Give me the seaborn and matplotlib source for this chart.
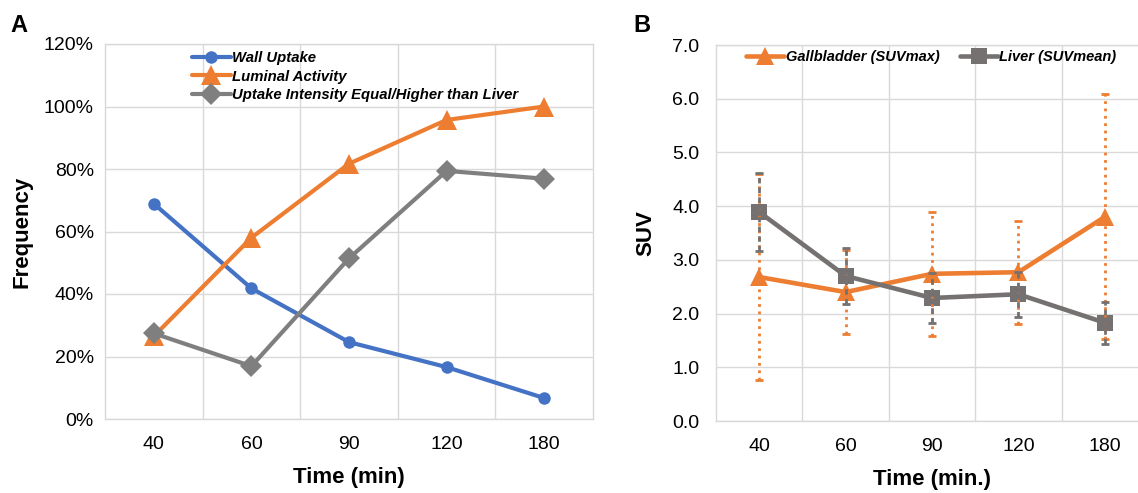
import numpy as np
import matplotlib
matplotlib.use('Agg')
import matplotlib.pyplot as plt
import seaborn as sns

sns.set_theme(style="white")
plt.rcParams['font.family'] = ['Liberation Sans', 'DejaVu Sans']
plt.rcParams.update({'text.color': 'black', 'axes.labelcolor': 'black',
                     'xtick.color': 'black', 'ytick.color': 'black'})

# Time points (categories)
times = ['40', '60', '90', '120', '180']

# Panel A: frequencies (%)
wall_uptake = [68.9, 41.8, 24.6, 16.6, 6.7]
luminal_activity = [26.5, 58.0, 81.7, 95.7, 100.0]
uptake_vs_liver = [27.4, 16.9, 51.4, 79.4, 76.9]

# Panel B: SUV with symmetric error bars
gallbladder_suvmax = [2.68, 2.40, 2.74, 2.77, 3.80]
gallbladder_err = [1.92, 0.78, 1.16, 0.96, 2.28]
liver_suvmean = [3.89, 2.70, 2.29, 2.36, 1.83]
liver_err = [0.73, 0.52, 0.46, 0.42, 0.39]

blue = '#4472C4'
orange = '#ED7D31'
grey_a = '#7F7F7F'
grey_b = '#767171'
grid_c = '#D9D9D9'

fig = plt.figure(figsize=(11.38, 4.93), dpi=100)
ax1 = fig.add_axes([105 / 1138, 74 / 493, 488 / 1138, 375 / 493])
ax2 = fig.add_axes([716 / 1138, 72 / 493, 432 / 1138, 376 / 493])

x = np.arange(len(times))


def style_axes(ax):
    ax.set_xlim(-0.5, len(times) - 0.5)
    ax.grid(True, color=grid_c, linewidth=1)
    for s in ax.spines.values():
        s.set_color(grid_c)
        s.set_linewidth(1)
    # grid between categories, labels at category centres
    ax.set_xticks(np.arange(0.5, len(times) - 1, 1.0))
    ax.set_xticklabels([])
    ax.set_xticks(x, minor=True)
    ax.set_xticklabels(times, minor=True)
    ax.tick_params(axis='both', which='both', length=0, labelsize=14)
    ax.tick_params(axis='x', which='both', pad=12)


legend_font = {'size': 10.7, 'style': 'italic', 'weight': 'bold'}

# ---- Panel A ----
sns.lineplot(ax=ax1, x=x, y=wall_uptake, color=blue, linewidth=3,
             marker='o', markersize=9, markeredgewidth=0, label='Wall Uptake')
sns.lineplot(ax=ax1, x=x, y=luminal_activity, color=orange, linewidth=3,
             marker='^', markersize=14, markeredgewidth=0, label='Luminal Activity')
sns.lineplot(ax=ax1, x=x, y=uptake_vs_liver, color=grey_a, linewidth=3,
             marker='D', markersize=11, markeredgewidth=0,
             label='Uptake Intensity Equal/Higher than Liver')
style_axes(ax1)
ax1.set_ylim(0, 120)
ax1.set_yticks(np.arange(0, 121, 20))
ax1.set_yticklabels([f'{v}%' for v in range(0, 121, 20)])
ax1.tick_params(axis='y', pad=8)
ax1.set_xlabel('Time (min)', fontsize=16, fontweight='bold', labelpad=10)
ax1.set_ylabel('Frequency', fontsize=16, fontweight='bold', labelpad=8)
ax1.legend(loc='upper left', bbox_to_anchor=(0.16, 1.005), frameon=False,
           prop=legend_font, handlelength=2.6, handletextpad=0.1,
           labelspacing=0.3, borderaxespad=0.2)

# ---- Panel B ----
sns.lineplot(ax=ax2, x=x, y=gallbladder_suvmax, color=orange, linewidth=3.3,
             marker='^', markersize=13, markeredgewidth=0,
             label='Gallbladder (SUVmax)')
eb = ax2.errorbar(x, gallbladder_suvmax, yerr=gallbladder_err, fmt='none',
                  ecolor=orange, elinewidth=2, capsize=3, capthick=2, zorder=3)
eb[2][0].set_linestyle(':')
sns.lineplot(ax=ax2, x=x, y=liver_suvmean, color=grey_b, linewidth=3.3,
             marker='s', markersize=12, markeredgewidth=0,
             label='Liver (SUVmean)')
eb2 = ax2.errorbar(x, liver_suvmean, yerr=liver_err, fmt='none',
                   ecolor=grey_b, elinewidth=2, capsize=3, capthick=2, zorder=3)
eb2[2][0].set_linestyle((0, (2, 1.5)))
style_axes(ax2)
ax2.set_ylim(0, 7)
ax2.set_yticks(np.arange(0, 7.1, 1.0))
ax2.set_yticklabels([f'{v:.1f}' for v in np.arange(0, 7.1, 1.0)])
ax2.tick_params(axis='y', pad=12)
ax2.set_xlabel('Time (min.)', fontsize=16, fontweight='bold', labelpad=10)
ax2.set_ylabel('SUV', fontsize=16, fontweight='bold', labelpad=11)
ax2.legend(loc='upper left', bbox_to_anchor=(0.05, 1.01), frameon=False, ncol=2,
           prop={'size': 10.5, 'style': 'italic', 'weight': 'bold'},
           handlelength=2.6, handletextpad=0.1,
           columnspacing=1.4, borderaxespad=0.2)

fig.text(10 / 1138, 1 - 32 / 493, 'A', fontsize=17, fontweight='bold')
fig.text(633 / 1138, 1 - 32 / 493, 'B', fontsize=17, fontweight='bold')

fig.savefig('out.png', dpi=100)
